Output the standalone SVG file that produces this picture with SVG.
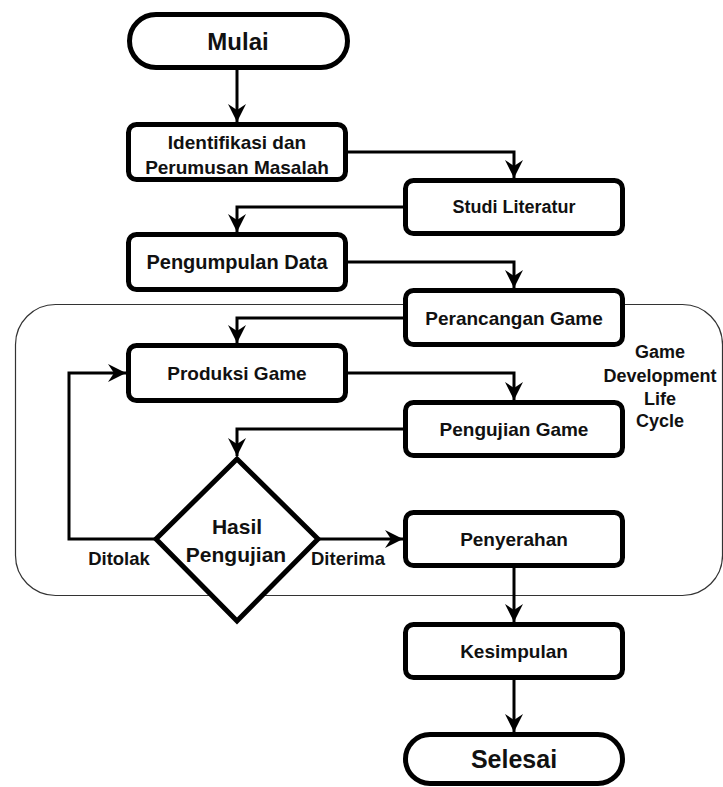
<svg xmlns="http://www.w3.org/2000/svg" width="723" height="787" viewBox="0 0 723 787">
<style>
.box{fill:#fff;stroke:#000;stroke-width:5}
.con{fill:none;stroke:#000;stroke-width:3}
.t{font-family:"Liberation Sans",Arial,sans-serif;font-weight:bold;fill:#111;text-anchor:middle;dominant-baseline:central}
.frame{fill:none;stroke:#333;stroke-width:1.2}
</style>
<defs>
<marker id="arr" markerUnits="userSpaceOnUse" viewBox="0 0 18 18" refX="18" refY="9" markerWidth="18" markerHeight="18" orient="auto">
<path d="M0,0 L18,9 L0,18 L6,9 z" fill="#000"/>
</marker>
</defs>
<g id="gdlc">
<rect class="frame" x="15.5" y="304.5" width="707" height="291" rx="40"/>
<text class="t" x="660" y="352" font-size="18">Game</text>
<text class="t" x="660" y="376" font-size="18">Development</text>
<text class="t" x="660" y="399" font-size="18">Life</text>
<text class="t" x="660" y="421" font-size="18">Cycle</text>
</g>
<g id="connectors">
<path class="con" d="M237,70 L237,122" marker-end="url(#arr)"/>
<path class="con" d="M348,152 L514,152 L514,178" marker-end="url(#arr)"/>
<path class="con" d="M403,207 L237,207 L237,232" marker-end="url(#arr)"/>
<path class="con" d="M348,262 L514,262 L514,288" marker-end="url(#arr)"/>
<path class="con" d="M403,318 L237,318 L237,343" marker-end="url(#arr)"/>
<path class="con" d="M348,373 L514,373 L514,400" marker-end="url(#arr)"/>
<path class="con" d="M403,429 L237,429 L237,456" marker-end="url(#arr)"/>
<path class="con" d="M319,539 L403,539" marker-end="url(#arr)"/>
<path class="con" d="M155,539 L69,539 L69,373 L126,373" marker-end="url(#arr)"/>
<path class="con" d="M514,568 L514,622" marker-end="url(#arr)"/>
<path class="con" d="M514,680 L514,732" marker-end="url(#arr)"/>
<text class="t" x="119" y="558" font-size="18.5">Ditolak</text>
<text class="t" x="348" y="558" font-size="18.5">Diterima</text>
</g>
<g id="mulai">
<rect class="box" x="129.5" y="14.5" width="218" height="53" rx="26.5"/>
<text class="t" x="238" y="41" font-size="24">Mulai</text>
</g>
<g id="identifikasi">
<rect class="box" x="128.5" y="124.5" width="217" height="55" rx="8"/>
<text class="t" x="237" y="142.5" font-size="19">Identifikasi dan</text>
<text class="t" x="237" y="167" font-size="19">Perumusan Masalah</text>
</g>
<g id="studi">
<rect class="box" x="405.5" y="180.5" width="217" height="53" rx="8"/>
<text class="t" x="514" y="207" font-size="18">Studi Literatur</text>
</g>
<g id="pengumpulan">
<rect class="box" x="128.5" y="234.5" width="217" height="55" rx="8"/>
<text class="t" x="237" y="262" font-size="20">Pengumpulan Data</text>
</g>
<g id="perancangan">
<rect class="box" x="405.5" y="290.5" width="217" height="54" rx="8"/>
<text class="t" x="514" y="318" font-size="19">Perancangan Game</text>
</g>
<g id="produksi">
<rect class="box" x="128.5" y="345.5" width="217" height="55" rx="8"/>
<text class="t" x="237" y="373" font-size="19">Produksi Game</text>
</g>
<g id="pengujian">
<rect class="box" x="405.5" y="402.5" width="217" height="53" rx="8"/>
<text class="t" x="514" y="429" font-size="19">Pengujian Game</text>
</g>
<g id="hasil">
<polygon class="box" points="237,459 318,539 237,621 156,539"/>
<text class="t" x="237" y="526" font-size="21">Hasil</text>
<text class="t" x="236" y="554" font-size="21">Pengujian</text>
</g>
<g id="penyerahan">
<rect class="box" x="405.5" y="512.5" width="217" height="53" rx="8"/>
<text class="t" x="514" y="539" font-size="19">Penyerahan</text>
</g>
<g id="kesimpulan">
<rect class="box" x="405.5" y="624.5" width="217" height="53" rx="8"/>
<text class="t" x="514" y="651" font-size="19">Kesimpulan</text>
</g>
<g id="selesai">
<rect class="box" x="405.5" y="734.5" width="217" height="49" rx="24.5"/>
<text class="t" x="514" y="759" font-size="25">Selesai</text>
</g>
</svg>
